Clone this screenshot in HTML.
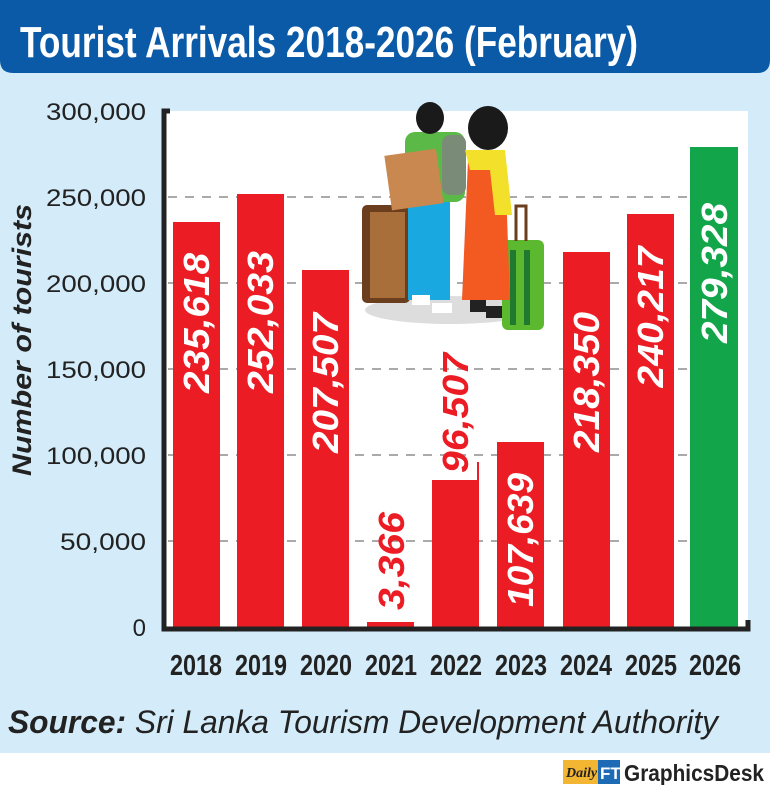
<!DOCTYPE html>
<html><head><meta charset="utf-8"><style>
html,body{margin:0;padding:0;background:#fff;}
svg{display:block;}
</style></head><body>
<svg width="770" height="785" viewBox="0 0 770 785" xmlns="http://www.w3.org/2000/svg">
<rect x="0" y="0" width="770" height="753" fill="#d4ecf9"/>
<path d="M0 0 H770 V60 Q770 73 757 73 H13 Q0 73 0 60 Z" fill="#0b5aa8"/>
<text x="20" y="57" font-family="Liberation Sans Narrow, Liberation Sans, sans-serif" font-weight="bold" font-size="44" fill="#fff" textLength="618" lengthAdjust="spacingAndGlyphs">Tourist Arrivals 2018-2026 (February)</text>
<rect x="166" y="111" width="582" height="518" fill="#fff"/>
<g stroke="#aaa" stroke-width="2" stroke-dasharray="9,8">
<line x1="168" y1="197" x2="746" y2="197"/><line x1="168" y1="283" x2="746" y2="283"/>
<line x1="168" y1="369" x2="746" y2="369"/><line x1="168" y1="455" x2="746" y2="455"/>
<line x1="168" y1="541" x2="746" y2="541"/>
</g>
<g font-family="Liberation Sans, sans-serif" font-size="24" fill="#222" text-anchor="end">
<text x="146" y="120" textLength="100" lengthAdjust="spacingAndGlyphs">300,000</text><text x="146" y="206" textLength="100" lengthAdjust="spacingAndGlyphs">250,000</text><text x="146" y="292" textLength="100" lengthAdjust="spacingAndGlyphs">200,000</text>
<text x="146" y="378" textLength="100" lengthAdjust="spacingAndGlyphs">150,000</text><text x="146" y="464" textLength="100" lengthAdjust="spacingAndGlyphs">100,000</text><text x="146" y="550" textLength="86" lengthAdjust="spacingAndGlyphs">50,000</text>
<text x="146" y="636">0</text>
</g>
<text transform="translate(31,476) rotate(-90)" font-family="Liberation Sans Narrow, Liberation Sans, sans-serif" font-weight="bold" font-style="italic" font-size="27" fill="#222" textLength="272" lengthAdjust="spacingAndGlyphs">Number of tourists</text>
<!-- illustration -->
<ellipse cx="450" cy="310" rx="85" ry="14" fill="#ddd"/>
<rect x="362" y="205" width="48" height="98" rx="5" fill="#6b3e1e"/>
<rect x="370" y="212" width="35" height="86" fill="#a86f3a"/>
<rect x="502" y="240" width="42" height="90" rx="6" fill="#5cb82e"/>
<rect x="510" y="250" width="6" height="75" fill="#1f7a2f"/><rect x="524" y="250" width="6" height="75" fill="#1f7a2f"/>
<path d="M516 241 V206 H526 V241" stroke="#6b3e1e" stroke-width="3" fill="none"/>
<rect x="408" y="195" width="42" height="105" fill="#19a9e0"/>
<rect x="405" y="132" width="60" height="70" rx="10" fill="#5ab947"/>
<rect x="442" y="135" width="24" height="60" rx="8" fill="#7a8c78"/>
<ellipse cx="430" cy="118" rx="14" ry="16" fill="#1a1a1a"/>
<rect x="388" y="152" width="52" height="55" fill="#c9884f" transform="rotate(-8 414 180)"/>
<path d="M468 160 L505 160 L510 300 L462 300 Z" fill="#f25a22"/>
<path d="M465 150 L505 150 L512 215 L495 215 L490 170 L470 170 Z" fill="#f2e02a"/>
<ellipse cx="488" cy="128" rx="20" ry="22" fill="#1a1a1a"/>
<rect x="412" y="295" width="18" height="10" fill="#fff"/><rect x="432" y="303" width="20" height="10" fill="#fff"/>
<rect x="470" y="300" width="16" height="12" fill="#222"/><rect x="486" y="306" width="16" height="12" fill="#222"/>
<!-- bars -->
<g fill="#ec1c24">
<rect x="173" y="222" width="47" height="406"/>
<rect x="237" y="194" width="47" height="434"/>
<rect x="302" y="270" width="47" height="358"/>
<rect x="367" y="622" width="47" height="6"/>
<rect x="432" y="480" width="47" height="148"/>
<rect x="477" y="462" width="2" height="20"/>
<rect x="497" y="442" width="47" height="186"/>
<rect x="563" y="252" width="47" height="376"/>
<rect x="627" y="214" width="47" height="414"/>
</g>
<rect x="690" y="147" width="48" height="481" fill="#12a54a"/>
<g font-family="Liberation Sans Narrow, Liberation Sans, sans-serif" font-weight="bold" font-style="italic" font-size="36" fill="#fff" text-anchor="middle" lengthAdjust="spacingAndGlyphs">
<text transform="translate(209,323) rotate(-90)" textLength="140" lengthAdjust="spacingAndGlyphs">235,618</text>
<text transform="translate(273,322) rotate(-90)" textLength="142" lengthAdjust="spacingAndGlyphs">252,033</text>
<text transform="translate(338,383) rotate(-90)" textLength="140" lengthAdjust="spacingAndGlyphs">207,507</text>
<text transform="translate(404,561) rotate(-90)" fill="#ec1c24" textLength="98" lengthAdjust="spacingAndGlyphs">3,366</text>
<text transform="translate(468,413) rotate(-90)" fill="#ec1c24" textLength="120" lengthAdjust="spacingAndGlyphs">96,507</text>
<text transform="translate(533,540) rotate(-90)" textLength="134" lengthAdjust="spacingAndGlyphs">107,639</text>
<text transform="translate(599,382) rotate(-90)" textLength="140" lengthAdjust="spacingAndGlyphs">218,350</text>
<text transform="translate(663,317) rotate(-90)" textLength="141" lengthAdjust="spacingAndGlyphs">240,217</text>
<text transform="translate(727,273) rotate(-90)" textLength="140" lengthAdjust="spacingAndGlyphs">279,328</text>
</g>
<path d="M170 111 H164 V629 H748 V620" stroke="#222" stroke-width="5" fill="none"/>
<g font-family="Liberation Sans Narrow, Liberation Sans, sans-serif" font-weight="bold" font-size="29" fill="#222" text-anchor="middle">
<text x="196" y="675" textLength="52" lengthAdjust="spacingAndGlyphs">2018</text><text x="261" y="675" textLength="52" lengthAdjust="spacingAndGlyphs">2019</text><text x="326" y="675" textLength="52" lengthAdjust="spacingAndGlyphs">2020</text>
<text x="391" y="675" textLength="52" lengthAdjust="spacingAndGlyphs">2021</text><text x="456" y="675" textLength="52" lengthAdjust="spacingAndGlyphs">2022</text><text x="521" y="675" textLength="52" lengthAdjust="spacingAndGlyphs">2023</text>
<text x="586" y="675" textLength="52" lengthAdjust="spacingAndGlyphs">2024</text><text x="651" y="675" textLength="52" lengthAdjust="spacingAndGlyphs">2025</text><text x="715" y="675" textLength="52" lengthAdjust="spacingAndGlyphs">2026</text>
</g>
<text x="8" y="733" font-family="Liberation Sans Narrow, Liberation Sans, sans-serif" font-style="italic" font-size="32" fill="#222" textLength="710" lengthAdjust="spacingAndGlyphs"><tspan font-weight="bold">Source:</tspan> Sri Lanka Tourism Development Authority</text>
<rect x="563" y="760" width="35" height="24" fill="#f2b632"/>
<text x="566" y="777" font-family="Liberation Serif, serif" font-style="italic" font-weight="bold" font-size="14" fill="#222">Daily</text>
<rect x="598" y="760" width="22" height="24" fill="#1d6bb5"/>
<text x="600" y="779" font-family="Liberation Sans, sans-serif" font-weight="bold" font-size="17" fill="#fff">FT</text>
<text x="624" y="781" font-family="Liberation Sans Narrow, Liberation Sans, sans-serif" font-weight="bold" font-size="23" fill="#222" textLength="140" lengthAdjust="spacingAndGlyphs">GraphicsDesk</text>
</svg>
</body></html>
